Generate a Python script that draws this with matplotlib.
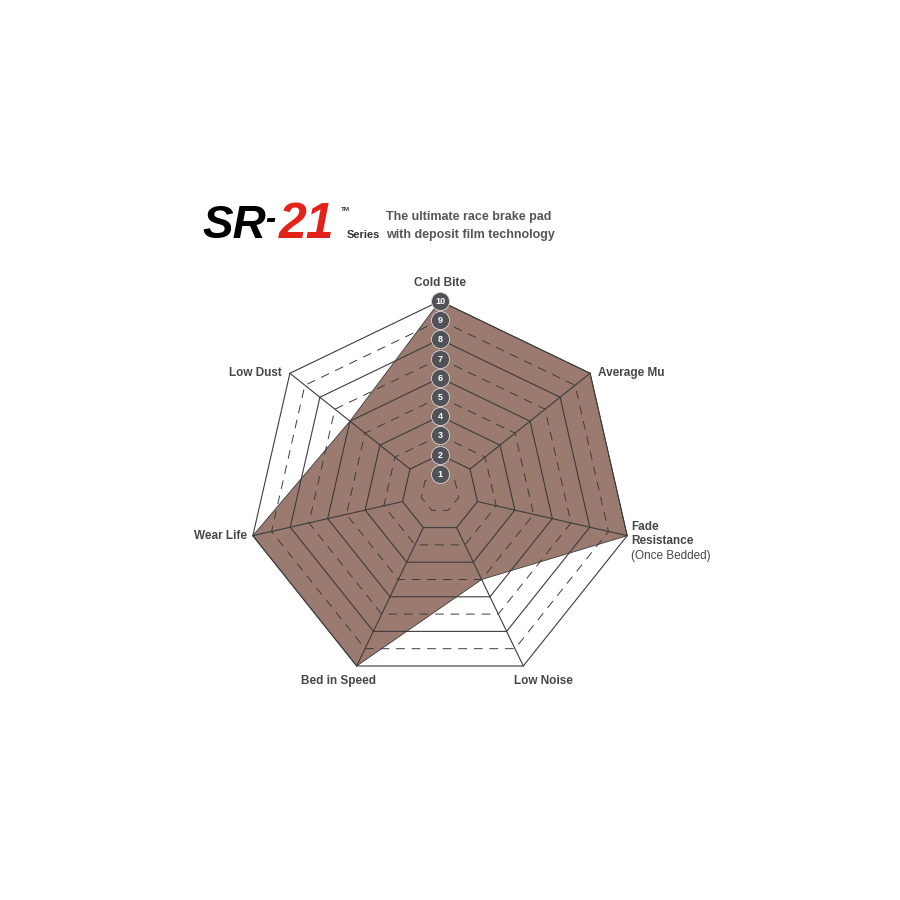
import numpy as np
import matplotlib
matplotlib.use('Agg')
import matplotlib.pyplot as plt

# data
categories = ['Cold Bite', 'Average Mu', 'Fade', 'Low Noise',
              'Bed in Speed', 'Wear Life', 'Low Dust']
values = [10, 10, 10, 5, 10, 10, 6]
levels = [1, 2, 3, 4, 5, 6, 7, 8, 9, 10]
level_labels = ['1', '2', '3', '4', '5', '6', '7', '8', '9', '10']

FILL = '#9b7b70'
LINE = '#3c3c3c'
TEXT = '#474747'
BADGE = '#505258'
RED = '#e2231a'
FONT = ['Liberation Sans', 'DejaVu Sans']

plt.rcParams['font.family'] = FONT

# geometry: centre at pixel (440, 493), 1 unit = 19.2 px
px = 19.2
cx, cy = 440, 493
fig = plt.figure(figsize=(9, 9), dpi=100)
ax = fig.add_axes([0, 0, 1, 1])
ax.set_xlim(-cx / px, (900 - cx) / px)
ax.set_ylim(-(900 - cy) / px, cy / px)
ax.axis('off')

n = len(categories)
ang = np.arange(n) * 2 * np.pi / n
ux, uy = np.sin(ang), np.cos(ang)

# filled data polygon
v = np.array(values, dtype=float)
px_, py_ = np.append(v * ux, v[0] * ux[0]), np.append(v * uy, v[0] * uy[0])
ax.fill(px_, py_, color=FILL, lw=0, zorder=1)
ax.plot(px_, py_, color=LINE, lw=0.6, zorder=2)

# rings: solid on even levels, dashed on odd
for lv in levels:
    xs = np.append(lv * ux, lv * ux[0])
    ys = np.append(lv * uy, lv * uy[0])
    if lv % 2 == 0:
        ax.plot(xs, ys, color=LINE, lw=0.8, zorder=3)
    else:
        ax.plot(xs, ys, color=LINE, lw=0.7, ls=(0, (9, 7)), zorder=3)

# spokes
for i in range(n):
    ax.plot([2 * ux[i], 10 * ux[i]], [2 * uy[i], 10 * uy[i]],
            color=LINE, lw=0.8, zorder=3)

# level badges on top axis
for lv, lab in zip(levels, level_labels):
    ax.plot(0, lv, marker='o', ms=13, color=BADGE, mec='#d8d8d8', mew=0.6, zorder=5)
    ax.text(0, lv - 0.03, lab, ha='center', va='center', color='white',
            fontsize=6.5, fontweight='bold', zorder=6)

# axis labels
lab_kw = dict(color=TEXT, fontsize=8.5, fontweight='bold')
ax.text(0, 10.6, categories[0], ha='center', va='bottom', **lab_kw)
ax.text(10 * ux[1] + 0.4, 10 * uy[1], categories[1], ha='left', va='center', **lab_kw)
ax.text(10 * ux[2] + 0.2, 10 * uy[2] + 0.45, categories[2], ha='left', va='center', **lab_kw)
ax.text(10 * ux[2] + 0.2, 10 * uy[2] - 0.3, 'Resistance', ha='left', va='center', **lab_kw)
ax.text(10 * ux[2] + 0.2, 10 * uy[2] - 1.03, '(Once Bedded)', ha='left', va='center',
        color=TEXT, fontsize=8.5)
ax.text(10 * ux[3] + 1.05, 10 * uy[3] - 0.45, categories[3], ha='center', va='top', **lab_kw)
ax.text(10 * ux[4] - 0.95, 10 * uy[4] - 0.45, categories[4], ha='center', va='top', **lab_kw)
ax.text(10 * ux[5] - 0.3, 10 * uy[5], categories[5], ha='right', va='center', **lab_kw)
ax.text(10 * ux[6] - 0.4, 10 * uy[6], categories[6], ha='right', va='center', **lab_kw)

# header logo
fig.text(202 / 900, 1 - 238 / 900, 'SR', color='black', fontsize=33,
         fontweight='bold', style='italic', ha='left', va='baseline')
fig.text(265 / 900, 1 - 228 / 900, '-', color='black', fontsize=22,
         fontweight='bold', style='italic', ha='left', va='baseline')
fig.text(279 / 900, 1 - 238 / 900, '21', color=RED, fontsize=36,
         fontweight='bold', style='italic', ha='left', va='baseline')
fig.text(341 / 900, 1 - 211 / 900, 'TM', color='#333333', fontsize=4.5,
         fontweight='bold', ha='left', va='baseline')
fig.text(347 / 900, 1 - 238 / 900, 'Series', color='#333333', fontsize=8,
         fontweight='bold', ha='left', va='baseline')
fig.text(386 / 900, 1 - 220 / 900, 'The ultimate race brake pad', color='#555555',
         fontsize=9, fontweight='bold', ha='left', va='baseline')
fig.text(386 / 900, 1 - 238 / 900, 'with deposit film technology', color='#555555',
         fontsize=9, fontweight='bold', ha='left', va='baseline')

fig.savefig('out.png', dpi=100, facecolor='white')
